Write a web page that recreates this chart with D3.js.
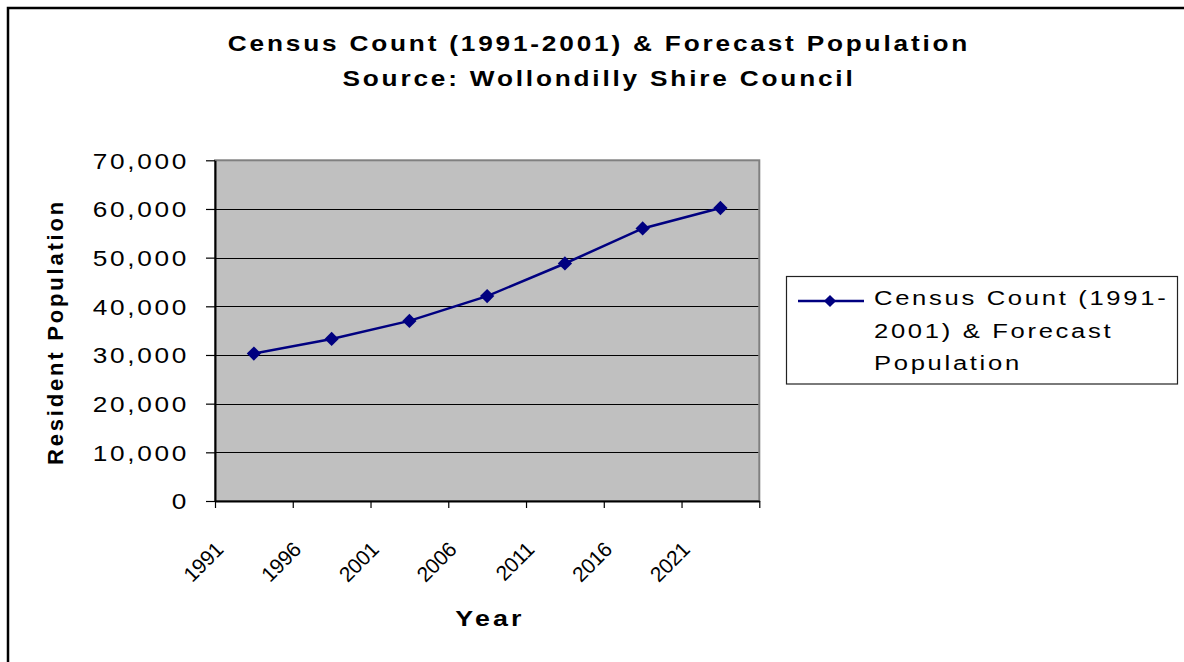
<!DOCTYPE html>
<html>
<head>
<meta charset="utf-8">
<script src="https://cdn.jsdelivr.net/npm/d3@7"></script>
<style>
  html, body { margin: 0; padding: 0; background: #fff; }
  svg { display: block; font-family: "Liberation Sans", Arial, sans-serif; }
</style>
</head>
<body>
<svg id="chart" width="1184" height="662"></svg>
<script>
const categories = ["1991", "1996", "2001", "2006", "2011", "2016", "2021"];
const population = [30300, 33300, 37000, 42100, 48800, 56000, 60200];
const yTicks = [0, 10000, 20000, 30000, 40000, 50000, 60000, 70000];
const titleLines = ["Census Count (1991-2001) & Forecast Population", "Source: Wollondilly Shire Council"];
const seriesName = ["Census Count (1991-", "2001) & Forecast", "Population"];
const xTitle = "Year";
const yTitle = "Resident Population";

const SX = 1.22; // horizontal glyph stretch seen in the reference
const svg = d3.select("#chart");
const plot = { left: 215, right: 759.3, top: 160.3, bottom: 501 };

// outer chart border
svg.append("rect").attr("x", 8).attr("y", 8).attr("width", 1200).attr("height", 700)
  .attr("fill", "#fff").attr("stroke", "#000").attr("stroke-width", 2.5);

// title
titleLines.forEach((t, i) => {
  svg.append("text").attr("text-anchor", "middle")
    .attr("transform", `translate(599,${51 + i * 35}) scale(${SX},1)`)
    .attr("font-size", 21.5).attr("font-weight", "bold").attr("letter-spacing", 2.3)
    .attr("fill", "#000").text(t);
});

const x = d3.scaleLinear().domain([0, categories.length]).range([plot.left, plot.right]);
const y = d3.scaleLinear().domain([0, 70000]).range([plot.bottom, plot.top]);

// plot area
svg.append("rect").attr("x", plot.left).attr("y", plot.top)
  .attr("width", plot.right - plot.left).attr("height", plot.bottom - plot.top)
  .attr("fill", "#c0c0c0").attr("stroke", "#808080").attr("stroke-width", 2);

// gridlines
svg.append("g").selectAll("line").data(yTicks.filter(v => v > 0 && v < 70000)).join("line")
  .attr("x1", plot.left).attr("x2", plot.right - 1)
  .attr("y1", d => Math.round(y(d)) + 0.5).attr("y2", d => Math.round(y(d)) + 0.5)
  .attr("stroke", "#000").attr("stroke-width", 1);

// y axis
const yAxis = svg.append("g").attr("transform", `translate(${plot.left},0)`)
  .call(d3.axisLeft(y).tickValues(yTicks).tickSize(9).tickSizeOuter(0).tickFormat(d3.format(",")));
yAxis.select(".domain").attr("stroke", "#000").attr("stroke-width", 2);
yAxis.selectAll(".tick line").attr("stroke", "#000").attr("stroke-width", 1.2);
yAxis.selectAll(".tick text").attr("font-size", 21.5).attr("letter-spacing", 2.2)
  .attr("fill", "#000").attr("x", 0).attr("dy", "0.36em")
  .attr("transform", `translate(-26,0) scale(${SX},1)`)
  .style("font-family", "'Liberation Sans', Arial, sans-serif");

// x axis (ticks on category boundaries)
const xAxis = svg.append("g").attr("transform", `translate(0,${plot.bottom})`)
  .call(d3.axisBottom(x).tickValues(d3.range(categories.length + 1)).tickSize(7).tickSizeOuter(0)
    .tickFormat(i => categories[i] || ""));
xAxis.select(".domain").attr("stroke", "#000").attr("stroke-width", 2);
xAxis.selectAll(".tick line").attr("stroke", "#000").attr("stroke-width", 1.2);
xAxis.selectAll(".tick text").attr("font-size", 21).attr("letter-spacing", -0.3)
  .attr("fill", "#000").attr("text-anchor", "end")
  .attr("y", 0).attr("dy", 0)
  .attr("transform", "translate(9,50) rotate(-45)")
  .style("font-family", "'Liberation Sans', Arial, sans-serif");

// line
const pts = population.map((v, i) => [x(i + 0.5), y(v)]);
svg.append("path").datum(pts).attr("d", d3.line())
  .attr("fill", "none").attr("stroke", "#000080").attr("stroke-width", 2.5);
const diamond = d3.symbol().type(d3.symbolDiamond2).size(130);
svg.append("g").selectAll("path").data(pts).join("path")
  .attr("d", diamond).attr("transform", d => `translate(${d[0]},${d[1]})`)
  .attr("fill", "#000080");

// axis titles
svg.append("text").attr("transform", `translate(490,626) scale(${SX},1)`).attr("text-anchor", "middle")
  .attr("font-size", 22).attr("font-weight", "bold").attr("letter-spacing", 2.6).text(xTitle);
svg.append("text").attr("transform", "translate(63,332) rotate(-90)").attr("text-anchor", "middle")
  .attr("font-size", 22).attr("font-weight", "bold").attr("letter-spacing", 2.8).text(yTitle);

// legend
const lg = svg.append("g");
lg.append("rect").attr("x", 786.5).attr("y", 276.5).attr("width", 391).attr("height", 107.5)
  .attr("fill", "#fff").attr("stroke", "#222").attr("stroke-width", 1.2);
lg.append("line").attr("x1", 798).attr("x2", 864).attr("y1", 301).attr("y2", 301)
  .attr("stroke", "#000080").attr("stroke-width", 2.5);
lg.append("path").attr("d", d3.symbol().type(d3.symbolDiamond2).size(95))
  .attr("transform", "translate(830,301)").attr("fill", "#000080");
seriesName.forEach((t, i) => {
  lg.append("text").attr("transform", `translate(874,${305 + i * 32.5}) scale(${SX},1)`)
    .attr("font-size", 21).attr("letter-spacing", 2.2).attr("fill", "#000").text(t);
});
</script>
</body>
</html>
